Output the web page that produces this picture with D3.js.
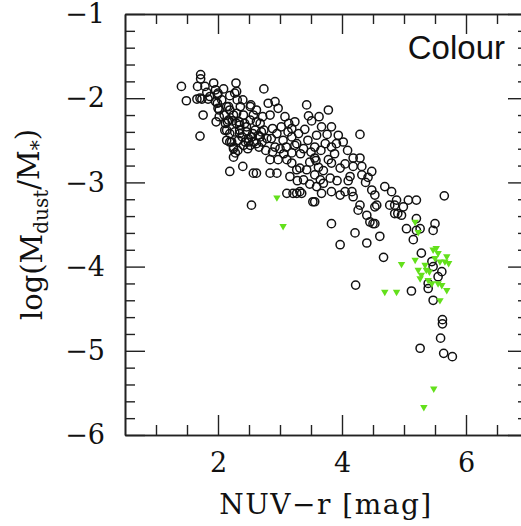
<!DOCTYPE html>
<html>
<head>
<meta charset="utf-8">
<script src="https://cdn.jsdelivr.net/npm/d3@7"></script>
<style>
  body { margin: 0; background: #fff; }
  svg { display: block; }
</style>
</head>
<body>
<div id="chart"></div>
<script>
// detections (open circles) : [NUV-r, log(Mdust/M*)]
var detections = [
  [1.72,-1.72],[1.72,-1.77],[1.41,-1.86],[1.67,-1.86],[1.79,-1.86],[1.93,-1.82],[1.96,-1.90],
  [2.09,-1.89],[2.29,-1.82],[2.30,-1.92],[2.74,-1.89],[1.49,-2.03],[1.66,-2.01],[1.74,-2.01],
  [1.87,-1.98],[2.00,-1.94],[1.96,-2.04],[2.19,-1.97],[2.31,-2.02],[1.76,-2.20],[2.00,-2.12],
  [1.97,-2.28],[2.17,-2.10],[2.36,-2.10],[2.53,-2.08],[2.30,-2.18],[2.41,-2.20],[2.23,-2.27],
  [2.15,-2.28],[2.34,-2.28],[2.57,-2.20],[2.62,-2.28],[2.81,-2.06],[2.92,-2.04],[2.97,-2.12],
  [2.84,-2.20],[3.08,-2.22],[3.24,-2.28],[3.13,-2.40],[1.71,-2.45],[2.11,-2.38],[2.14,-2.50],
  [2.22,-2.52],[2.33,-2.50],[2.25,-2.60],[2.28,-2.65],[2.41,-2.56],[2.49,-2.48],[2.52,-2.56],
  [2.62,-2.54],[2.68,-2.46],[2.79,-2.48],[2.74,-2.38],[2.60,-2.38],[2.46,-2.34],[2.35,-2.38],
  [2.95,-2.42],[2.92,-2.58],[3.00,-2.60],[2.84,-2.73],[2.97,-2.73],[3.11,-2.73],[3.19,-2.65],
  [3.27,-2.54],[3.19,-2.46],[2.19,-2.87],[2.40,-2.81],[2.57,-2.89],[2.62,-2.89],[2.84,-2.89],
  [2.95,-2.89],[3.27,-2.85],[1.71,-2.00],[1.84,-2.01],[1.99,-1.96],[2.27,-1.94],[2.25,-2.20],
  [2.17,-2.26],[2.30,-2.30],[2.19,-2.42],[2.19,-2.52],[2.25,-2.58],[2.25,-2.70],[2.35,-2.42],
  [2.46,-2.40],[2.54,-2.46],[2.49,-2.52],[2.35,-2.32],[2.52,-2.26],[2.52,-2.10],[1.99,-2.06],
  [2.02,-2.14],[2.02,-2.22],[2.14,-2.38],[2.19,-2.14],[2.14,-2.10],[2.54,-3.27],
  [2.06,-2.02],[2.10,-2.20],[2.27,-2.40],[2.39,-2.46],[2.44,-2.52],[2.56,-2.42],[2.65,-2.44],
  [2.71,-2.52],[2.58,-2.52],[2.66,-2.58],[2.48,-2.60],[2.43,-2.30],[2.68,-2.30],[2.72,-2.22],
  [2.88,-2.36],[2.86,-2.48],[3.05,-2.50],[3.02,-2.34],[2.77,-2.62],[2.88,-2.64],[3.06,-2.66],
  [2.32,-2.62],[2.12,-2.30],[2.40,-2.02],[1.82,-1.93],[2.62,-2.14],[2.70,-2.40],[3.10,-2.58],
  [3.14,-2.30],[3.30,-2.42],[3.33,-2.66],[3.45,-2.50],[3.50,-2.64],[3.66,-2.62],[3.62,-2.82],
  [3.70,-2.86],[3.88,-2.66],[3.48,-2.76],[3.28,-2.98],[3.48,-3.02],[3.92,-2.98],[4.05,-2.78],
  [4.09,-2.62],[3.94,-2.44],[3.63,-2.22],[4.10,-2.98],[4.38,-3.00],[4.42,-2.94],
  [3.43,-2.08],[3.78,-2.14],[4.29,-2.43],[3.46,-2.21],[3.51,-2.27],[3.67,-2.34],[3.83,-2.34],
  [3.40,-2.37],[3.59,-2.44],[3.76,-2.43],[3.19,-2.36],[3.73,-2.54],[3.83,-2.58],[3.91,-2.54],
  [4.02,-2.52],[3.24,-2.56],[3.38,-2.60],[3.56,-2.58],[3.56,-2.71],[3.58,-2.74],[3.78,-2.73],
  [3.83,-2.77],[3.97,-2.83],[4.18,-2.71],[4.29,-2.71],[4.18,-2.81],[4.32,-2.81],[4.48,-2.87],
  [4.13,-2.93],[4.32,-2.91],[3.19,-2.77],[3.32,-2.83],[3.43,-2.85],[3.16,-2.93],[3.38,-2.97],
  [3.56,-2.91],[3.65,-2.97],[3.70,-3.01],[3.59,-3.05],[3.81,-2.95],[3.21,-3.13],[3.35,-3.13],
  [3.67,-3.13],[3.83,-3.11],[3.97,-3.15],[4.05,-3.11],[4.16,-3.11],[4.18,-3.17],[4.48,-3.09],
  [4.53,-3.15],[4.69,-3.05],[4.80,-3.11],[4.88,-3.21],[5.07,-3.21],[5.20,-3.21],[3.53,-3.23],
  [4.29,-3.27],[4.56,-3.27],[4.77,-3.27],[3.11,-3.13],[3.27,-3.13],[3.32,-3.11],[3.56,-3.23],
  [3.83,-3.49],[3.97,-3.74],[4.21,-3.60],[4.40,-3.72],[4.61,-3.64],[4.67,-3.89],[4.26,-3.33],
  [4.40,-3.39],[4.45,-3.47],[4.53,-3.49],[4.85,-3.27],[4.90,-3.37],
  [5.20,-3.43],[5.04,-3.55],[5.20,-3.57],[5.26,-3.55],[5.50,-3.49],[5.47,-3.57],[5.15,-3.68],
  [4.50,-3.49],[4.53,-3.29],[4.85,-3.37],[4.99,-3.29],[4.96,-3.39],[5.28,-3.84],[5.45,-3.94],
  [5.47,-4.00],[5.61,-4.06],[5.55,-4.12],[5.39,-4.20],[5.39,-4.26],[5.12,-4.29],[5.47,-4.40],
  [5.65,-3.16],[4.22,-4.22],[5.62,-4.63],[5.62,-4.68],[5.59,-4.85],[5.26,-4.97],[5.64,-5.03],
  [5.78,-5.07]
];

// upper limits (green down triangles)
var upperLimits = [
  [2.95,-3.18],[3.05,-3.52],[5.18,-3.47],[5.23,-3.59],[4.96,-3.97],[4.69,-4.30],[4.88,-4.30],
  [5.18,-3.92],[5.23,-4.04],[5.28,-4.10],[5.26,-4.14],[5.36,-4.04],[5.41,-4.06],[5.39,-4.16],
  [5.34,-3.98],[5.47,-3.80],[5.52,-3.78],[5.55,-3.84],[5.50,-3.90],[5.58,-3.94],[5.69,-3.88],
  [5.72,-3.96],[5.66,-3.94],[5.61,-4.22],[5.69,-4.28],[5.55,-4.20],[5.58,-4.40],[5.45,-4.20],
  [5.48,-5.45],[5.32,-5.67]
];

var xDomain = [0.5, 7];
var yDomain = [-6, -1];
var xMajor = [2, 4, 6];
var xMinor = [1, 1.5, 2.5, 3, 3.5, 4.5, 5, 5.5, 6.5];
var yMajor = [-6, -5, -4, -3, -2, -1];
var yMinor = d3.range(-5.8, -1, 0.2).filter(function(v) { return Math.abs(v - Math.round(v)) > 0.01; });

var W = 521, H = 526;
var pLeft = 125, pRight = 528, pTop = 14, pBottom = 435;
var serif = "'DejaVu Serif', serif";
var fmt = d3.format("d");

var x = d3.scaleLinear().domain(xDomain).range([pLeft, pRight]);
var y = d3.scaleLinear().domain(yDomain).range([pBottom, pTop]);

var svg = d3.select("#chart").append("svg")
            .attr("width", W).attr("height", H);

// axes: ticks inward on all four sides
function side(axisFn, scale, vals, len, labels, tr) {
  var ax = axisFn(scale).tickValues(vals).tickSizeInner(-len).tickSizeOuter(0);
  ax.tickFormat(labels ? fmt : "");
  var g = svg.append("g").attr("transform", tr).call(ax);
  g.selectAll("line").attr("stroke", "#222").attr("stroke-width", 1.4);
  g.select(".domain").attr("stroke", "#222").attr("stroke-width", 1.6);
  return g;
}

var gb = side(d3.axisBottom, x, xMajor, 20, true, "translate(0," + pBottom + ")");
side(d3.axisBottom, x, xMinor, 10, false, "translate(0," + pBottom + ")");
side(d3.axisTop, x, xMajor, 20, false, "translate(0," + pTop + ")");
side(d3.axisTop, x, xMinor, 10, false, "translate(0," + pTop + ")");
var gl = side(d3.axisLeft, y, yMajor, 20, true, "translate(" + pLeft + ",0)");
side(d3.axisLeft, y, yMinor, 10, false, "translate(" + pLeft + ",0)");
side(d3.axisRight, y, yMajor, 20, false, "translate(" + pRight + ",0)");
side(d3.axisRight, y, yMinor, 10, false, "translate(" + pRight + ",0)");

gb.selectAll("text").attr("y", 18).attr("font-family", serif).attr("font-size", 27).attr("fill", "#111");
gl.selectAll("text").attr("x", -20).attr("font-family", serif).attr("font-size", 27).attr("fill", "#111");

// points
svg.append("g").selectAll("circle")
   .data(detections).enter()
   .append("circle")
   .attr("cx", function(d) { return x(d[0]); })
   .attr("cy", function(d) { return y(d[1]); })
   .attr("r", 4.1)
   .attr("fill", "none")
   .attr("stroke", "#111")
   .attr("stroke-width", 1.5);

var tri = d3.symbol().type(d3.symbolTriangle).size(24);
svg.append("g").selectAll("path")
   .data(upperLimits).enter()
   .append("path")
   .attr("d", tri)
   .attr("transform", function(d) { return "translate(" + x(d[0]) + "," + y(d[1]) + ") rotate(180)"; })
   .attr("fill", "#63e01b");

// labels
svg.append("text")
   .attr("x", 505).attr("y", 59)
   .attr("text-anchor", "end")
   .attr("font-family", "'Liberation Sans', Arial, sans-serif")
   .attr("font-size", 33)
   .attr("fill", "#111")
   .text("Colour");

svg.append("text")
   .attr("x", 326).attr("y", 514)
   .attr("text-anchor", "middle")
   .attr("font-family", serif)
   .attr("font-size", 28)
   .attr("letter-spacing", 1.5)
   .attr("fill", "#111")
   .text("NUV\u2212r [mag]");

var yl = svg.append("text")
   .attr("transform", "translate(42," + ((pTop + pBottom) / 2) + ") rotate(-90)")
   .attr("text-anchor", "middle")
   .attr("font-family", serif)
   .attr("font-size", 29)
   .attr("fill", "#111");
yl.append("tspan").text("log(M");
yl.append("tspan").attr("dy", "0.3em").attr("font-size", 20).text("dust");
yl.append("tspan").attr("dy", "-0.3em").text("/M");
yl.append("tspan").attr("dy", "0.3em").attr("font-size", 20).text("*");
yl.append("tspan").attr("dy", "-0.3em").text(")");
</script>
</body>
</html>
